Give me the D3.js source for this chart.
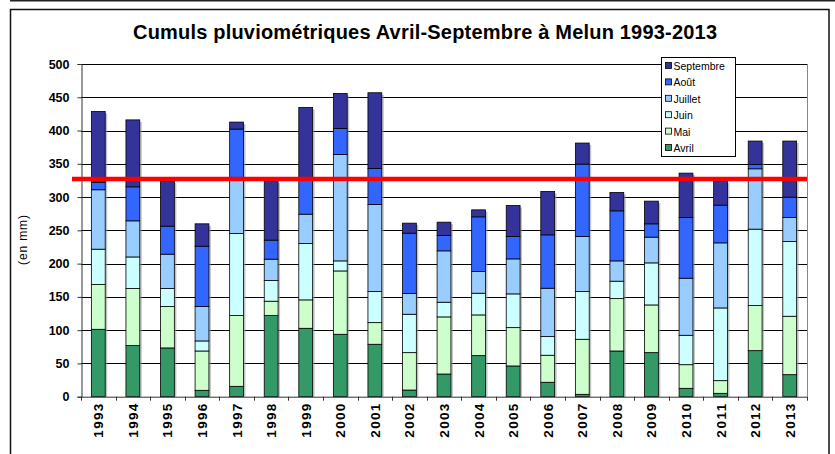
<!DOCTYPE html>
<html>
<head>
<meta charset="utf-8">
<script src="https://cdn.jsdelivr.net/npm/d3@7"></script>
<style>
  body { margin: 0; background: #fff; }
  svg { display: block; font-family: "Liberation Sans", Arial, sans-serif; }
</style>
</head>
<body>
<svg width="835" height="454"></svg>
<script>
// Cumuls pluviometriques Avril-Septembre a Melun (mm)
var years = ["1993","1994","1995","1996","1997","1998","1999","2000","2001","2002","2003",
             "2004","2005","2006","2007","2008","2009","2010","2011","2012","2013"];
var avril     = [101.3, 76.8, 73.3,  9.6, 15.6, 121.9, 102.8, 93.8, 78.8, 10.0, 34.1, 61.7, 46.2, 21.7,   3.6, 68.7, 66.2, 12.6,   5.1,  69.2, 33.1];
var mai       = [ 67.2, 85.7, 62.1, 59.1, 106.3, 21.6, 42.7, 95.2, 32.5, 56.2, 85.8, 61.2, 57.6, 40.6,  82.7, 78.7, 71.7, 35.5,  19.0,  67.7, 87.8];
var juin      = [ 53.2, 47.5, 27.1, 15.1, 123.3, 31.0, 84.7, 15.1, 46.7, 57.7, 22.1, 32.6, 50.7, 28.0,  71.7, 26.2, 63.2, 44.2, 109.3, 114.9, 112.3];
var juillet   = [ 89.3, 54.3, 51.7, 51.6, 81.8, 32.2, 44.1, 159.9, 130.8, 31.1, 77.2, 32.5, 52.6, 72.7, 82.7, 30.5, 38.7, 85.8,  97.8,  90.7, 36.1];
var aout      = [ 11.0, 51.1, 42.1, 90.8, 75.2, 28.6, 52.7, 39.2, 54.2, 90.8, 23.0, 82.3, 33.6, 80.2, 108.9, 75.2, 20.0, 91.2,  56.7,   6.5, 30.6];
var septembre = [106.7, 100.6, 67.7, 33.6, 10.5, 88.7, 107.8, 52.6, 113.8, 15.0, 20.1, 10.5, 46.6, 65.2, 31.6, 27.6, 34.1, 66.7,  36.1,  35.2, 84.3];
var moyenne = 327;
var months = ["Avril", "Mai", "Juin", "Juillet", "Août", "Septembre"];
var monthColors = ["#339966", "#CCFFCC", "#CCFFFF", "#99CCFF", "#3366FF", "#333399"];
var yTicks = [0, 50, 100, 150, 200, 250, 300, 350, 400, 450, 500];

var series = [avril, mai, juin, juillet, aout, septembre];
var table = years.map(function(y, i) {
    var row = { year: y };
    months.forEach(function(m, k) { row[m] = series[k][i]; });
    return row;
});

var svg = d3.select("svg");
var plotLeft = 81, plotRight = 807, plotTop = 64, plotBottom = 396.7;

// cadre
svg.append("line").attr("x1", 10).attr("x2", 835).attr("y1", 0.75).attr("y2", 0.75)
    .attr("stroke", "#222").attr("stroke-width", 1.5);
svg.append("rect").attr("x", 10.5).attr("y", 9.5).attr("width", 818.5).attr("height", 460)
    .attr("fill", "#fff").attr("stroke", "#111").attr("stroke-width", 1.5);

var x = d3.scaleBand().domain(years).range([plotLeft, plotRight]).paddingInner(0.6).paddingOuter(0.3);
var y = d3.scaleLinear().domain([0, 500]).range([plotBottom, plotTop]);
var color = d3.scaleOrdinal().domain(months).range(monthColors);

// grille
svg.append("g").selectAll("line").data(yTicks.slice(1)).enter().append("line")
    .attr("x1", plotLeft).attr("x2", plotRight)
    .attr("y1", function(d) { return Math.round(y(d)) + 0.5; })
    .attr("y2", function(d) { return Math.round(y(d)) + 0.5; })
    .attr("stroke", "#000").attr("stroke-width", 1);
svg.append("line").attr("x1", plotRight + 0.5).attr("x2", plotRight + 0.5).attr("y1", plotTop).attr("y2", plotBottom)
    .attr("stroke", "#888");

// axe y
var yAxis = svg.append("g").attr("transform", "translate(" + (plotLeft + 0.5) + ",0)")
    .call(d3.axisLeft(y).tickValues(yTicks).tickSize(4).tickPadding(8));
yAxis.select(".domain").attr("stroke", "#333");
yAxis.selectAll("line").attr("stroke", "#333");
yAxis.selectAll("text").attr("font-size", 12.5).attr("font-weight", "bold").attr("fill", "#000")
    .attr("font-family", "Liberation Sans, Arial, sans-serif");

svg.append("text").attr("transform", "translate(27,240) rotate(-90)")
    .attr("text-anchor", "middle").attr("font-size", 12).attr("textLength", 50).text("(en mm)");

// barres empilees
var stacked = d3.stack().keys(months)(table);

svg.append("g").selectAll("rect").data(table).enter().append("rect")
    .attr("x", function(d) { return x(d.year) + 2; })
    .attr("y", function(d, i) { return y(stacked[5][i][1]) + 2; })
    .attr("width", x.bandwidth())
    .attr("height", function(d, i) { return plotBottom - y(stacked[5][i][1]) - 2; })
    .attr("fill", "#999").attr("opacity", 0.6);

svg.append("g").selectAll("g").data(stacked).enter().append("g")
    .attr("fill", function(d) { return color(d.key); })
    .selectAll("rect").data(function(d) { return d; }).enter().append("rect")
    .attr("x", function(d) { return x(d.data.year); })
    .attr("y", function(d) { return y(d[1]); })
    .attr("width", x.bandwidth())
    .attr("height", function(d) { return y(d[0]) - y(d[1]); })
    .attr("stroke", "#000").attr("stroke-width", 0.8);

// axe x
svg.append("line").attr("x1", plotLeft).attr("x2", plotRight).attr("y1", plotBottom + 0.5).attr("y2", plotBottom + 0.5)
    .attr("stroke", "#333");
var bounds = years.map(function(yr) { return x(yr) - x.step() * 0.3; }).concat([plotRight]);
svg.append("g").selectAll("line").data(bounds).enter().append("line")
    .attr("x1", function(d) { return Math.round(d) + 0.5; })
    .attr("x2", function(d) { return Math.round(d) + 0.5; })
    .attr("y1", plotBottom).attr("y2", plotBottom + 4).attr("stroke", "#333");
svg.append("g").selectAll("text").data(years).enter().append("text")
    .attr("transform", function(d) {
        return "translate(" + (x(d) + x.bandwidth() / 2 + 5) + "," + (plotBottom + 7) + ") rotate(-90)";
    })
    .attr("text-anchor", "end").attr("font-size", 13.5).attr("font-weight", "bold")
    .attr("textLength", 34)
    .text(function(d) { return d; });

// moyenne
svg.append("line").attr("x1", 72).attr("x2", plotRight).attr("y1", y(moyenne)).attr("y2", y(moyenne))
    .attr("stroke", "#FF0000").attr("stroke-width", 4.5);

// legende
var legend = svg.append("g").attr("transform", "translate(661,57)");
legend.append("rect").attr("x", 0.5).attr("y", 0.5).attr("width", 74).attr("height", 99)
    .attr("fill", "#fff").attr("stroke", "#000");
var legendItems = months.slice().reverse();
var li = legend.selectAll("g.item").data(legendItems).enter().append("g")
    .attr("transform", function(d, i) { return "translate(0," + (9 + i * 16.4) + ")"; });
li.append("rect").attr("x", 4.5).attr("y", -3.5).attr("width", 6).attr("height", 6)
    .attr("fill", function(d) { return color(d); }).attr("stroke", "#000").attr("stroke-width", 0.8);
li.append("text").attr("x", 12.5).attr("y", 4).attr("font-size", 10.5).text(function(d) { return d; });

// titre
svg.append("text").attr("x", 425).attr("y", 39).attr("text-anchor", "middle")
    .attr("font-size", 20).attr("font-weight", "bold").attr("textLength", 584)
    .text("Cumuls pluviométriques Avril-Septembre à Melun 1993-2013");
</script>
</body>
</html>
